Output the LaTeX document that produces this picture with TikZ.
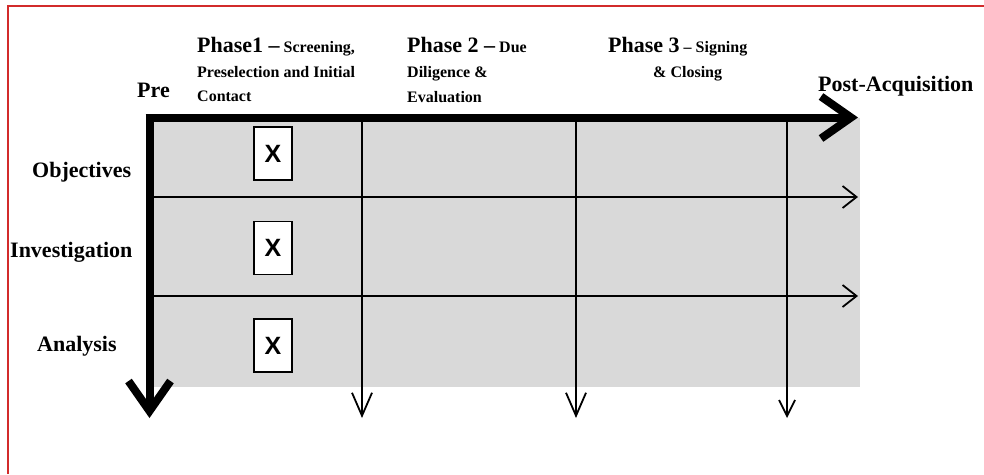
\documentclass[tikz,border=0pt]{standalone}
\usepackage{fontspec}
\setmainfont{Liberation Serif}
\newfontfamily\xfont{Liberation Sans}
\usetikzlibrary{arrows.meta}
\definecolor{bordred}{HTML}{D22B2B}
\definecolor{cellgray}{HTML}{D9D9D9}
\newcommand{\bigtxt}{\fontsize{22}{26}\selectfont\bfseries}
\newcommand{\smalltxt}{\fontsize{16}{19}\selectfont\bfseries}
\tikzset{
  lbl/.style={inner sep=0pt, anchor=base west, font=\bigtxt},
  sublbl/.style={inner sep=0pt, anchor=base west, font=\smalltxt},
  xbox/.style={draw=black, line width=1.3pt, fill=white, minimum width=38pt, minimum height=53pt, inner sep=0pt, font=\xfont\fontsize{25}{28}\selectfont\bfseries},
  axis/.style={line width=8pt, -{Straight Barb[length=30pt,width=42pt,line width=8pt]}},
  thinarrow/.style={line width=1.6pt, -{Straight Barb[length=14pt,width=22pt,line width=1.8pt]}},
  thinarrowB/.style={line width=1.6pt, -{Straight Barb[length=23pt,width=20pt,line width=1.8pt]}},
  thinarrowC/.style={line width=1.6pt, -{Straight Barb[length=16pt,width=16pt,line width=1.8pt]}},
}
\begin{document}
\begin{tikzpicture}[x=1pt,y=-1pt]
\useasboundingbox (0,0) rectangle (984,474);
\fill[white] (0,0) rectangle (984,474);
% red frame
\draw[bordred, line width=1.5pt] (8,474) -- (8,6) -- (984,6);
% gray field
\fill[cellgray] (150,118) rectangle (860,387);

% coordinates
\coordinate (o) at (149.5,117.5);
\coordinate (xend) at (858,117.5);
\coordinate (yend) at (149.5,418);
\coordinate (r1s) at (150,197);
\coordinate (r1e) at (858,197);
\coordinate (r2s) at (150,296);
\coordinate (r2e) at (858,296);
\coordinate (c1s) at (362,117.5);
\coordinate (c1e) at (362,418);
\coordinate (c2s) at (576,117.5);
\coordinate (c2e) at (576,418);
\coordinate (c3s) at (787,117.5);
\coordinate (c3e) at (787,418);

% row separators
\draw[thinarrow] (r1s) -- (r1e);
\draw[thinarrow] (r2s) -- (r2e);
% column separators
\draw[thinarrowB] (c1s) -- (c1e);
\draw[thinarrowB] (c2s) -- (c2e);
\draw[thinarrowC] (c3s) -- (c3e);

% thick axes
\draw[axis] ([xshift=-4pt]o) -- (xend);
\draw[axis] ([yshift=-4pt]o) -- (yend);

% X boxes
\node[xbox] (x1) at (273,153.5) {X};
\node[xbox] (x2) at (273,248) {X};
\node[xbox] (x3) at (273,345.5) {X};

% axis labels
\node[lbl] (pre) at (137,97) {Pre};
\node[lbl] (post) at (818,91) {Post-Acquisition};
\node[lbl] (obj) at (32,177) {Objectives};
\node[lbl] (inv) at (10,257) {Investigation};
\node[lbl] (ana) at (37,351) {Analysis};

% phase headings
\node[lbl] (p1a) at (197,52) {Phase1 –{\smalltxt{} Screening,}};
\node[sublbl] (p1b) at (197,77) {Preselection and Initial};
\node[sublbl] (p1c) at (197,101) {Contact};

\node[lbl] (p2a) at (407,52) {Phase 2 –{\smalltxt{} Due}};
\node[sublbl] (p2b) at (407,77) {Diligence \&};
\node[sublbl] (p2c) at (407,102) {Evaluation};

\node[lbl] (p3a) at (608,52) {Phase 3{\smalltxt{} – Signing}};
\node[sublbl] (p3b) at (653,77) {\& Closing};
\end{tikzpicture}
\end{document}
